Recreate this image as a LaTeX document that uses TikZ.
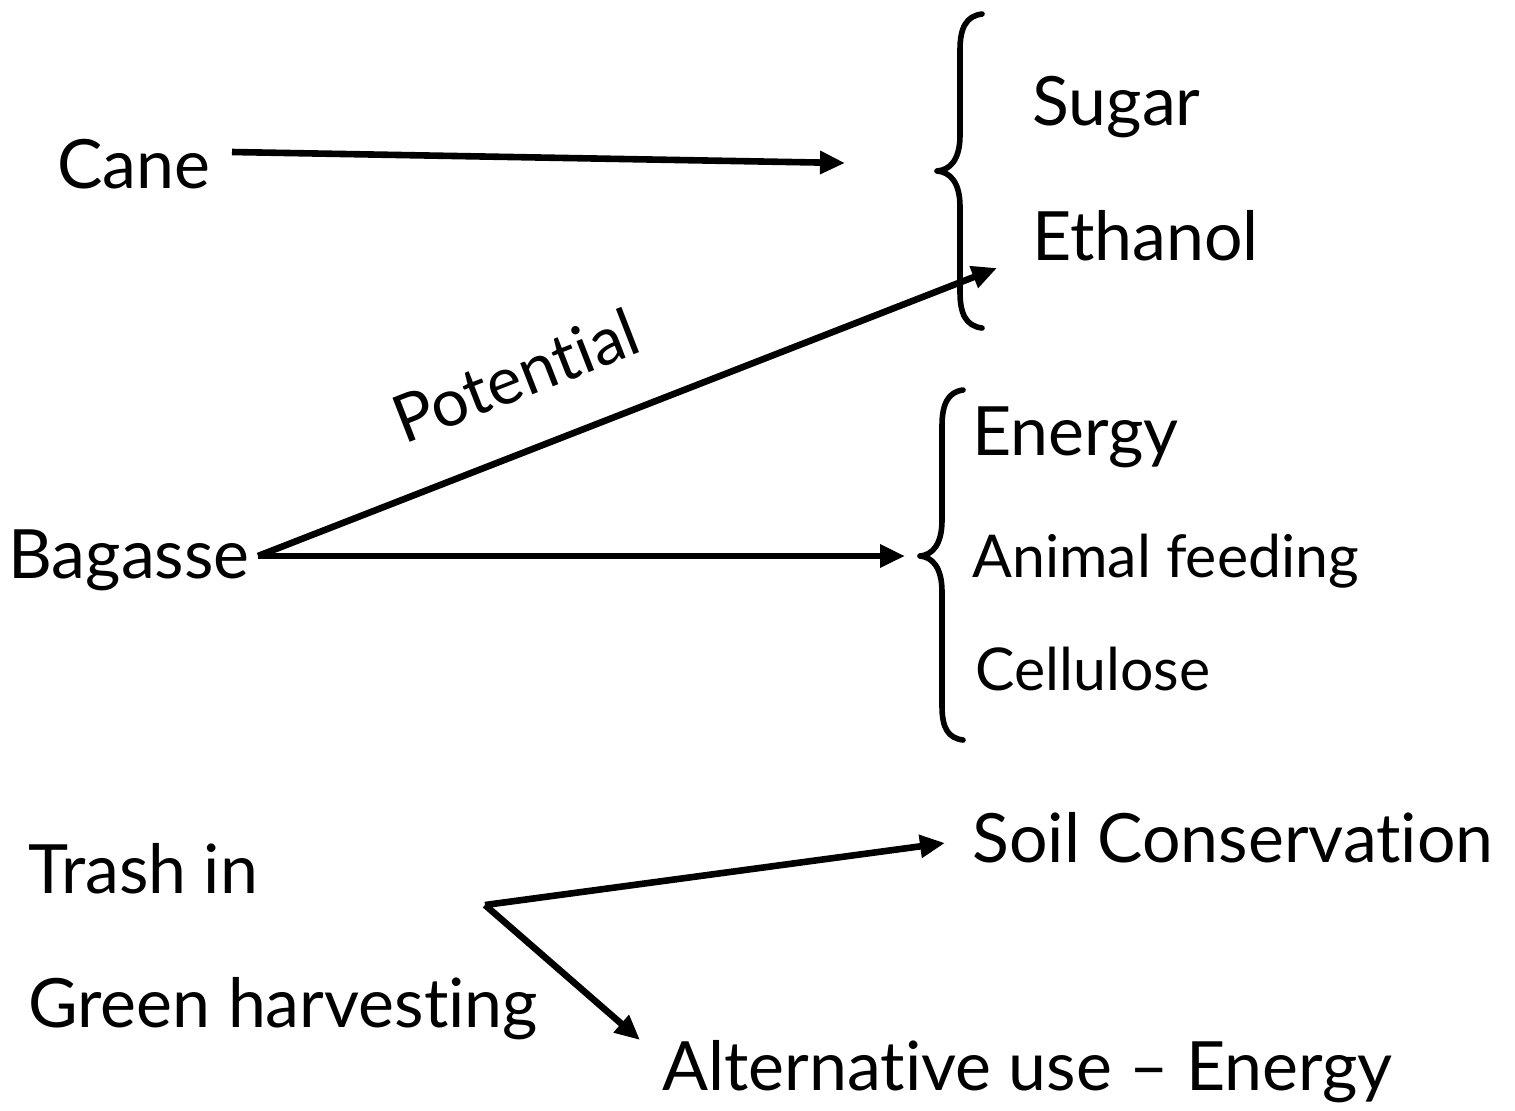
\documentclass[tikz,border=0pt]{standalone}
\usepackage{fontspec}
\setmainfont{Lato}[Ligatures=NoCommon]
\usetikzlibrary{arrows.meta}
\begin{document}
\begin{tikzpicture}[x=0.5pt,y=-0.5pt,
  lbl/.style={anchor=base west,inner sep=0pt,font=\fontsize{34}{40}\selectfont},
  small/.style={anchor=base west,inner sep=0pt,font=\fontsize{29.5}{35}\selectfont},
  flow/.style={line width=3.3pt,-{Triangle[length=12.5pt,width=11pt]}},
  brace/.style={line width=2.8pt,line cap=round,line join=round}]
\useasboundingbox (0,0) rectangle (1515,1110);

% sources
\node[lbl] (cane) at (57,188) {Cane};
\node[lbl] (bagasse) at (8,578) {Bagasse};
\node[lbl] (trash) at (28,893) {Trash in};
\node[lbl] (green) at (28,1027) {Green harvesting};

% products of cane
\node[lbl] (sugar) at (1032,125) {Sugar};
\node[lbl] (ethanol) at (1032,260) {Ethanol};

% uses of bagasse
\node[lbl] (energy) at (972,455) {Energy};
\node[small] (animal) at (972,577) {Animal feeding};
\node[small] (cellulose) at (975,690) {Cellulose};

% uses of trash
\node[lbl] (soil) at (972,862) {Soil Conservation};
\node[lbl] (alt) at (662,1090) {Alternative use -- Energy};

% arrow end points
\coordinate (caneS) at (232,152);
\coordinate (caneT) at (845,163);
\coordinate (bagS) at (258,556);
\coordinate (potT) at (997,268);
\coordinate (bagT) at (905,556);
\coordinate (fork) at (485,905);
\coordinate (soilT) at (945,843);
\coordinate (altT) at (640,1040);

% braces
\draw[brace] (982,14) .. controls (966,16) and (960,28) .. (960,50)
  -- (960,135) .. controls (960,160) and (950,170) .. (937,171)
  .. controls (950,172) and (960,182) .. (960,207)
  -- (960,292) .. controls (960,314) and (966,326) .. (982,328);
\draw[brace] (963,390) .. controls (948,392) and (942,404) .. (942,426)
  -- (942,520) .. controls (942,545) and (932,555) .. (920,556)
  .. controls (932,557) and (942,567) .. (942,592)
  -- (942,706) .. controls (942,728) and (948,738) .. (963,740);

% connectors
\draw[flow] (caneS) -- (caneT);
\draw[flow] (bagS) -- node[sloped,above=20pt,font=\fontsize{33}{38}\selectfont,pos=0.385]{Potential} (potT);
\draw[flow] (bagS) -- (bagT);
\draw[flow] (fork) -- (soilT);
\draw[flow] (fork) -- (altT);
\end{tikzpicture}
\end{document}
